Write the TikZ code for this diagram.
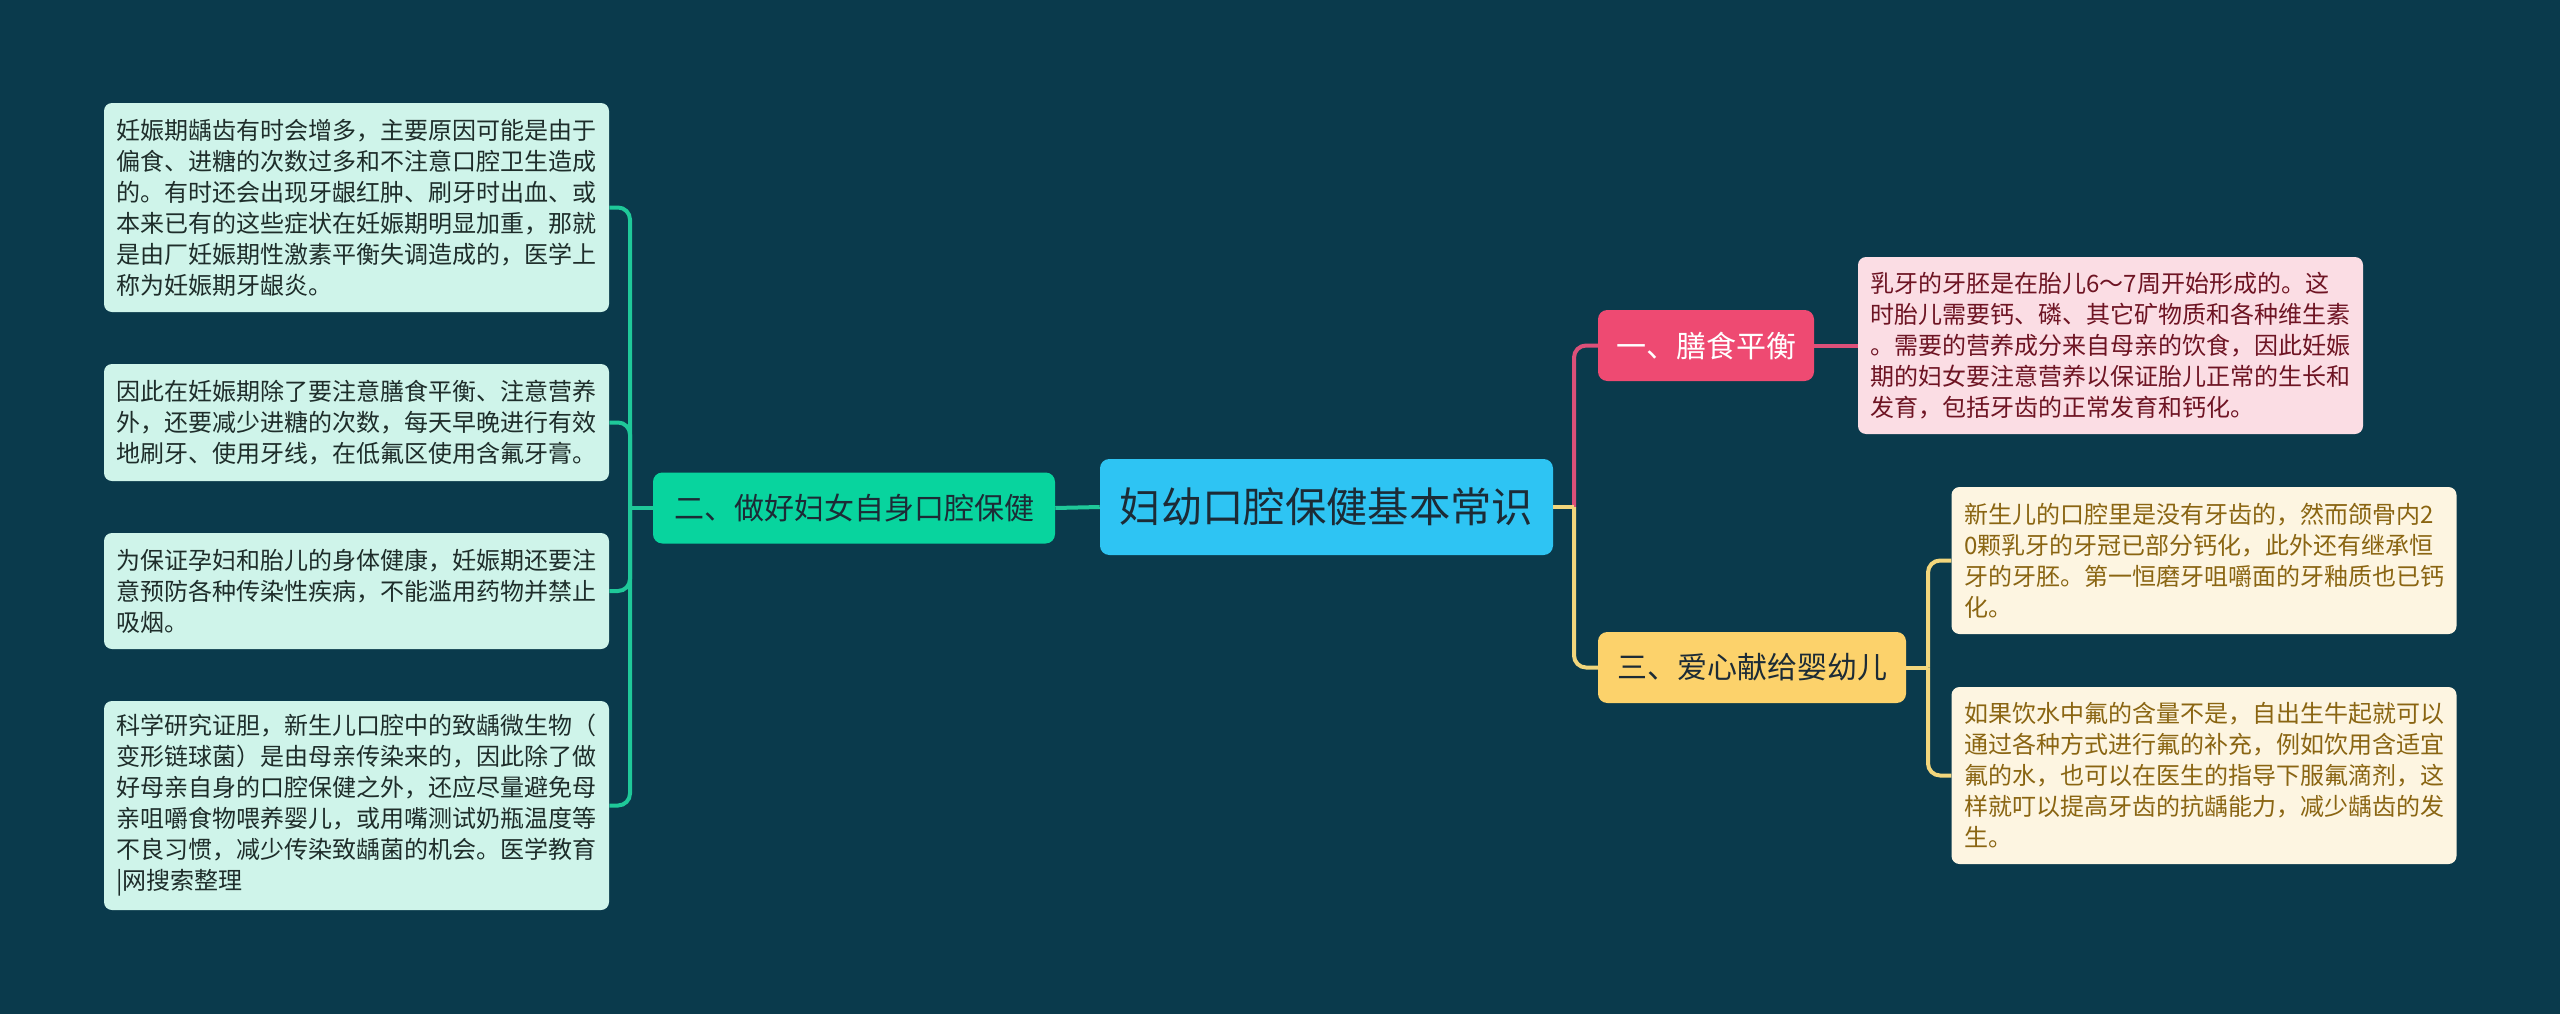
\documentclass[tikz,border=0pt]{standalone}
\usepackage{fontspec}
\newfontfamily\cjk{Noto Sans CJK SC}
\definecolor{MapBg}{HTML}{0A3A4C}
\definecolor{MapSky}{HTML}{2EC4F3}
\definecolor{MapInk}{HTML}{1C2B36}
\definecolor{MapGreen}{HTML}{08D49E}
\definecolor{MapGreenLine}{HTML}{1FC899}
\definecolor{MapMint}{HTML}{CFF4EA}
\definecolor{MapMintText}{HTML}{1E2D2A}
\definecolor{MapRose}{HTML}{EE4A72}
\definecolor{MapRoseLine}{HTML}{DC5079}
\definecolor{MapRoseTint}{HTML}{FBDDE4}
\definecolor{MapRoseText}{HTML}{6E1423}
\definecolor{MapGold}{HTML}{FCD26B}
\definecolor{MapGoldLine}{HTML}{F2D67C}
\definecolor{MapGoldTint}{HTML}{FDF5E1}
\definecolor{MapGoldText}{HTML}{8A6512}

\begin{document}
\begin{tikzpicture}[
    x=0.75pt,y=-0.75pt,
    box/.style={rounded corners=7pt,inner sep=0pt,align=center},
    leaf/.style={box,rounded corners=6pt,minimum width=378.75pt,text width=360pt,align=left,font=\cjk\fontsize{18}{23.25}\selectfont},
    topic/.style={box,font=\cjk\fontsize{22.5}{26}\selectfont,minimum height=53.25pt},
    link/.style={line width=3pt,rounded corners=9pt}
  ]
  \fill[MapBg] (0,0) rectangle (2560,1014);
  \useasboundingbox (0,0) rectangle (2560,1014);

  % centre and main topics
  \node[box,fill=MapSky,text=MapInk,font=\cjk\fontsize{31}{36}\selectfont,minimum width=339.75pt,minimum height=72pt] (root) at (1326.5,507) {妇幼口腔保健基本常识};
  \node[topic,fill=MapGreen,text=MapInk,minimum width=301.5pt] (mom) at (854,508) {二、做好妇女自身口腔保健};
  \node[topic,fill=MapRose,text=white,minimum width=162pt] (diet) at (1706,345.5) {一、膳食平衡};
  \node[topic,fill=MapGold,text=MapInk,minimum width=231pt] (baby) at (1752,667.5) {三、爱心献给婴幼儿};

  % left leaves
  \node[leaf,fill=MapMint,text=MapMintText,minimum height=156.75pt] (gum) at (356.5,207.5) {妊娠期龋齿有时会增多，主要原因可能是由于\\偏食、进糖的次数过多和不注意口腔卫生造成\\的。有时还会出现牙龈红肿、刷牙时出血、或\\本来已有的这些症状在妊娠期明显加重，那就\\是由厂妊娠期性激素平衡失调造成的，医学上\\称为妊娠期牙龈炎。};
  \node[leaf,fill=MapMint,text=MapMintText,minimum height=87.75pt] (brush) at (356.5,422.5) {因此在妊娠期除了要注意膳食平衡、注意营养\\外，还要减少进糖的次数，每天早晚进行有效\\地刷牙、使用牙线，在低氟区使用含氟牙膏。};
  \node[leaf,fill=MapMint,text=MapMintText,minimum height=87pt] (guard) at (356.5,591) {为保证孕妇和胎儿的身体健康，妊娠期还要注\\意预防各种传染性疾病，不能滥用药物并禁止\\吸烟。};
  \node[leaf,fill=MapMint,text=MapMintText,minimum height=156.75pt] (germ) at (356.5,805.5) {科学研究证胆，新生儿口腔中的致龋微生物（\\变形链球菌）是由母亲传染来的，因此除了做\\好母亲自身的口腔保健之外，还应尽量避免母\\亲咀嚼食物喂养婴儿，或用嘴测试奶瓶温度等\\不良习惯，减少传染致龋菌的机会。医学教育\\|网搜索整理};

  % right leaves
  \node[leaf,fill=MapRoseTint,text=MapRoseText,minimum height=132.75pt] (bud) at (2110.5,345.5) {乳牙的牙胚是在胎儿6～7周开始形成的。这\\时胎儿需要钙、磷、其它矿物质和各种维生素\\。需要的营养成分来自母亲的饮食，因此妊娠\\期的妇女要注意营养以保证胎儿正常的生长和\\发育，包括牙齿的正常发育和钙化。};
  \node[leaf,fill=MapGoldTint,text=MapGoldText,minimum height=110.25pt] (teeth) at (2204,560.5) {新生儿的口腔里是没有牙齿的，然而颌骨内2\\0颗乳牙的牙冠已部分钙化，此外还有继承恒\\牙的牙胚。第一恒磨牙咀嚼面的牙釉质也已钙\\化。};
  \node[leaf,fill=MapGoldTint,text=MapGoldText,minimum height=132.75pt] (fluor) at (2204,775.5) {如果饮水中氟的含量不是，自出生牛起就可以\\通过各种方式进行氟的补充，例如饮用含适宜\\氟的水，也可以在医生的指导下服氟滴剂，这\\样就叮以提高牙齿的抗龋能力，减少龋齿的发\\生。};

  % connectors
  \coordinate (jl) at (630,508);
  \coordinate (jr) at (1574,507);
  \coordinate (jy) at (1928,667.5);
  \draw[link,MapGreenLine] (root.west) -- (mom.east);
  \draw[link,MapGreenLine] (mom.west) -- (jl);
  \foreach \n in {gum,brush,guard,germ}
    \draw[link,MapGreenLine] (jl) |- (\n.east);
  \draw[link,MapRoseLine] (jr) |- (diet.west);
  \draw[link,MapGoldLine] (jr) |- (baby.west);
  \draw[link,MapGoldLine] (root.east) -- (jr);
  \draw[link,MapRoseLine] (diet.east) -- (bud.west);
  \draw[link,MapGoldLine] (baby.east) -- (jy);
  \foreach \n in {teeth,fluor}
    \draw[link,MapGoldLine] (jy) |- (\n.west);
\end{tikzpicture}
\end{document}
